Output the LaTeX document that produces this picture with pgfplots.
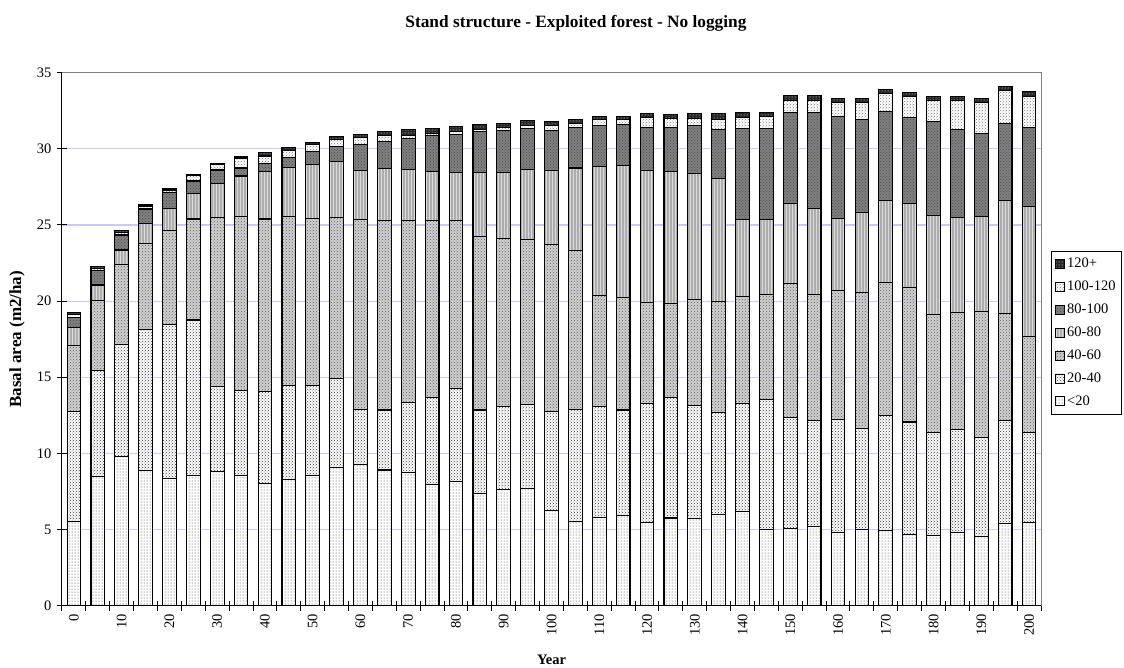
\documentclass[border=0pt]{standalone}
\usepackage{fontspec}
\setmainfont{Liberation Serif}
\usepackage{pgfplots}
\pgfplotsset{compat=1.18}
\usepackage{pgfplotstable}
\usetikzlibrary{patterns}

\definecolor{gridblue}{RGB}{200,200,255}
\definecolor{framegray}{RGB}{128,128,128}

% basal area by diameter class (cm), m2/ha
\pgfplotstableread{
year a b c d e f g
0 5.50 7.26 4.34 1.16 0.64 0.23 0.12
5 8.46 7.00 4.61 0.99 0.94 0.15 0.14
10 9.78 7.37 5.25 0.96 0.98 0.16 0.15
15 8.89 9.26 5.65 1.29 0.96 0.20 0.11
20 8.35 10.13 6.15 1.44 1.07 0.16 0.10
25 8.54 10.22 6.63 1.69 0.81 0.34 0.10
30 8.80 5.59 11.11 2.24 0.87 0.35 0.07
35 8.57 5.56 11.42 2.67 0.52 0.66 0.09
40 8.02 6.07 11.30 3.13 0.51 0.50 0.22
45 8.26 6.22 11.05 3.23 0.68 0.46 0.20
50 8.54 5.90 11.01 3.55 0.80 0.47 0.17
55 9.07 5.83 10.57 3.68 0.98 0.48 0.18
60 9.28 3.60 12.50 3.22 1.71 0.43 0.22
65 8.91 3.94 12.47 3.37 1.81 0.40 0.22
70 8.74 4.59 11.99 3.35 2.01 0.17 0.42
75 7.98 5.67 11.67 3.21 2.32 0.18 0.33
80 8.15 6.10 11.02 3.20 2.49 0.16 0.35
85 7.35 5.50 11.40 4.20 2.67 0.15 0.35
90 7.65 5.42 11.02 4.36 2.73 0.20 0.30
95 7.70 5.50 10.87 4.60 2.64 0.22 0.31
100 6.28 6.49 10.97 4.86 2.60 0.35 0.22
105 5.52 7.38 10.43 5.41 2.64 0.30 0.27
110 5.80 7.26 7.29 8.47 2.73 0.35 0.24
115 5.90 6.95 7.37 8.68 2.68 0.34 0.22
120 5.46 7.84 6.59 8.67 2.84 0.66 0.26
125 5.76 7.92 6.17 8.67 2.88 0.57 0.26
130 5.74 7.38 7.01 8.24 3.16 0.46 0.35
135 5.98 6.72 7.28 8.09 3.20 0.66 0.39
140 6.17 7.13 7.01 5.03 5.99 0.73 0.33
145 5.02 8.54 6.90 4.92 5.95 0.77 0.31
150 5.09 7.29 8.76 5.25 6.02 0.79 0.30
155 5.22 6.93 8.31 5.60 6.35 0.78 0.31
160 4.83 7.39 8.45 4.78 6.67 0.94 0.27
165 5.00 6.66 8.89 5.25 6.10 1.14 0.29
170 4.93 7.55 8.77 5.38 5.84 1.18 0.27
175 4.67 7.39 8.86 5.47 5.64 1.41 0.26
180 4.61 6.78 7.71 6.52 6.17 1.36 0.26
185 4.83 6.75 7.70 6.23 5.78 1.86 0.29
190 4.52 6.53 8.25 6.24 5.49 2.03 0.24
195 5.41 6.78 7.02 7.42 5.03 2.17 0.24
200 5.48 5.90 6.32 8.54 5.16 2.04 0.35
}\stand

\begin{document}
\begin{tikzpicture}
\useasboundingbox (-62pt,-61.3pt) rectangle (1062pt,605.7pt);
\begin{axis}[
  at={(0,0)}, anchor=south west,
  scale only axis, width=979pt, height=533pt,
  ybar stacked, bar width=2.87,
  xmin=-2.5, xmax=202.5, ymin=0, ymax=35,
  axis x line*=bottom, axis y line*=left,
  axis line style={black, line width=1pt, -},
  xtick={0,10,...,200},
  minor xtick={-2.5,2.5,...,202.5},
  major x tick style={draw=none},
  ytick={0,5,...,35},
  tick align=center, major tick length=10pt, minor tick length=10pt,
  tick style={black, line width=1pt},
  ymajorgrids, major grid style={gridblue, line width=1.1pt},
  /pgf/number format/assume math mode=true,
  tick label style={font=\fontsize{14.5}{16}\selectfont},
  xticklabel style={rotate=90, anchor=east},
  yticklabel style={anchor=east, xshift=-2pt},
  title={Stand structure - Exploited forest - No logging},
  title style={font=\bfseries\fontsize{17.3}{20}\selectfont, at={(0.525,1)}, anchor=base, yshift=39pt},
  xlabel={Year},
  xlabel style={font=\bfseries\fontsize{14.5}{16}\selectfont, at={(axis description cs:0.5,0)}, anchor=base, yshift=-58.3pt},
  ylabel={Basal area (m2/ha)},
  ylabel style={font=\bfseries\fontsize{17}{19}\selectfont, at={(axis description cs:-0.046,0.5)}, anchor=center, rotate=0},
  legend style={at={(1.0102,0.666)}, anchor=north west, draw=black, line width=0.8pt,
    font=\fontsize{14.5}{16}\selectfont, row sep=7.8pt, inner xsep=4pt, inner ysep=5pt,
    cells={anchor=west}},
  reverse legend,
  legend image code/.code={\draw[#1, line width=0.8pt] (0pt,-4.5pt) rectangle (9pt,4.5pt);},
  after end axis/.code={\draw[framegray, line width=1pt] (rel axis cs:0,1) -- (rel axis cs:1,1) -- (rel axis cs:1,0);},
]
\addplot[draw=black, line width=1.1pt, fill=white, postaction={pattern=dots, pattern color=black!80}] table[x=year, y=a] {\stand};
\addlegendentry{<20}
\addplot[draw=black, line width=1.1pt, fill=white, postaction={pattern=crosshatch dots, pattern color=black!80}] table[x=year, y=b] {\stand};
\addlegendentry{20-40}
\addplot[draw=black, line width=1.1pt, fill=black!18, postaction={pattern=crosshatch dots, pattern color=black!65}] table[x=year, y=c] {\stand};
\addlegendentry{40-60}
\addplot[draw=black, line width=1.1pt, fill=black!32, postaction={pattern=vertical lines, pattern color=white!85!black}] table[x=year, y=d] {\stand};
\addlegendentry{60-80}
\addplot[draw=black, line width=1.1pt, fill=black!50, postaction={pattern=crosshatch dots, pattern color=black!70}] table[x=year, y=e] {\stand};
\addlegendentry{80-100}
\addplot[draw=black, line width=1.1pt, fill=white, postaction={pattern=crosshatch dots, pattern color=black!55}] table[x=year, y=f] {\stand};
\addlegendentry{100-120}
\addplot[draw=black, line width=1.1pt, fill=black!85, postaction={pattern=dots, pattern color=white}] table[x=year, y=g] {\stand};
\addlegendentry{120+}
\end{axis}
\end{tikzpicture}
\end{document}
